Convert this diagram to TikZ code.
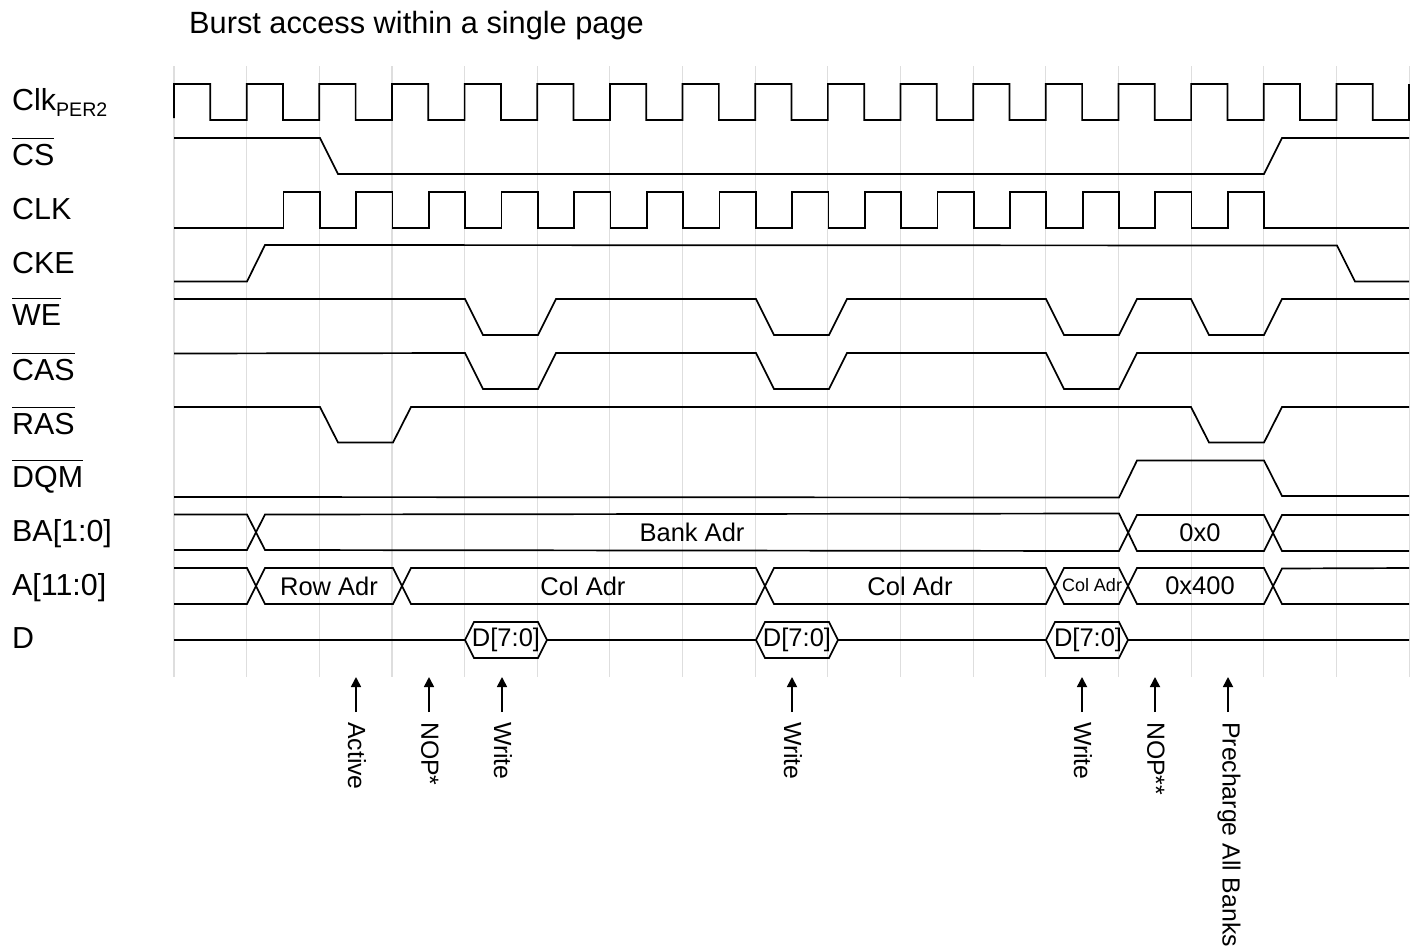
\documentclass[tikz,border=0pt]{standalone}
\usepackage{fontspec}
\setmainfont{Liberation Sans}
\usetikzlibrary{arrows.meta}
\newcommand\barred[1]{\leavevmode\vbox{\hrule height 1.2pt \kern 4.6pt \hbox{#1}}}
\newcommand\fs[1]{\fontsize{#1}{#1}\selectfont}
\tikzset{
  gridline/.style={draw=black!13,line width=1.1pt},
  wave/.style={draw=black,line width=1.7pt,line join=miter},
  siglabel/.style={anchor=base west,inner sep=0pt,font=\fs{30.4}},
  buslabel/.style={anchor=center,inner sep=0pt,font=\fs{25.5}},
  cmdlabel/.style={anchor=west,rotate=-90,inner sep=0pt,font=\fs{24.8}},
  cmdarrow/.style={draw=black,line width=1.7pt,-{Triangle[length=10pt,width=10pt]},shorten <=10pt},
}
\begin{document}
\begin{tikzpicture}[x=1pt,y=-1pt]
\useasboundingbox (0,0) rectangle (1420,951);
% grid
\foreach \i in {0,...,17} {
  \pgfmathsetmacro\gx{174+72.65*\i}
  \draw[gridline] (\gx,66) -- (\gx,677);
}
% title and labels
\node[siglabel,font=\fs{30.75}] (title) at (189,33) {Burst access within a single page};
\node[siglabel] (lclk2) at (12,110) {Clk\raisebox{-6pt}{\fs{19.6}PER2}};
\node[siglabel] (lcs) at (12,165) {\barred{CS}};
\node[siglabel] (lclk) at (12,219) {CLK};
\node[siglabel] (lcke) at (12,273) {CKE};
\node[siglabel] (lwe) at (12,325) {\barred{WE}};
\node[siglabel] (lcas) at (12,380) {\barred{CAS}};
\node[siglabel] (lras) at (12,434) {\barred{RAS}};
\node[siglabel] (ldqm) at (12,487) {\barred{DQM}};
\node[siglabel] (lba) at (12,541) {BA[1:0]};
\node[siglabel] (la) at (12,595) {A[11:0]};
\node[siglabel] (ld) at (12,648) {D};
% Clk PER2
\draw[wave] (174,118)
  \foreach \i in {0,...,16} {
    \pgfextra{\pgfmathsetmacro\xa{174+72.65*\i}\pgfmathsetmacro\xb{\xa+36.3}\pgfmathsetmacro\xc{\xa+72.65}}
    -- (\xa,84) -- (\xb,84) -- (\xb,120) -- (\xc,120)
  } -- (1409,84);
% CS
\draw[wave] (174,138) -- (320,138) -- (338,174) -- (1264,174) -- (1282,138) -- (1409,138);
% CLK
\draw[wave] (174,228)
  \foreach \i in {0,...,13} {
    \pgfextra{\pgfmathsetmacro\xa{283.5+72.65*\i}\pgfmathsetmacro\xb{\xa+36.3}\pgfmathsetmacro\xc{\xa+72.65}}
    -- (\xa,228) -- (\xa,192) -- (\xb,192) -- (\xb,228)
  } -- (1409,228);
\draw[wave,line width=2.2pt] (1337,228) -- (1409,228);
% CKE
\draw[wave] (174,281.5) -- (247,281.5) -- (265,245) -- (1337,245.5) -- (1355,281.5) -- (1409,281.5);
% WE
\draw[wave] (174,299) -- (465,299) -- (483,335) -- (538,335) -- (556,299) -- (756,299) -- (774,335) -- (829,335) -- (847,299) -- (1046,299) -- (1064,335) -- (1119,335) -- (1137,299) -- (1191,299) -- (1209,335) -- (1264,335) -- (1282,299) -- (1409,299);
% CAS
\draw[wave] (174,353.5) -- (465,353) -- (483,389) -- (538,389) -- (556,353) -- (756,353) -- (774,389) -- (829,389) -- (847,353) -- (1046,353) -- (1064,389) -- (1119,389) -- (1137,353) -- (1409,353);
% RAS
\draw[wave] (174,407) -- (320,407) -- (338,442.5) -- (393,442.5) -- (411,407) -- (1191,407) -- (1209,442.5) -- (1264,442.5) -- (1282,407) -- (1409,407);
% DQM
\draw[wave] (174,497) -- (1119,497.5) -- (1137,460.5) -- (1264,460.5) -- (1282,496) -- (1409,496);
% BA
\draw[wave] (174,514.5) -- (247,514.5) -- (265,550) -- (1119,551) -- (1137,515) -- (1264,515) -- (1282,551) -- (1409,551);
\draw[wave] (174,550) -- (247,550) -- (265,514.5) -- (1119,513.5) -- (1137,551) -- (1264,551) -- (1282,515) -- (1409,515);
\node[buslabel] (bank) at (692,532) {Bank Adr};
\node[buslabel] (bzero) at (1200,532.5) {0x0};
% A
\draw[wave] (174,568) -- (247,568) -- (265,604) -- (393,604) -- (411,568) -- (756,568) -- (774,604) -- (1046,604) -- (1064,568) -- (1119,568) -- (1137,604) -- (1264,604) -- (1282,568.5) -- (1409,568);
\draw[wave] (174,604) -- (247,604) -- (265,568) -- (393,568) -- (411,604) -- (756,604) -- (774,568) -- (1046,568) -- (1064,604) -- (1119,604) -- (1137,568) -- (1264,568) -- (1282,604) -- (1409,604);
\node[buslabel] (arow) at (329,586) {Row Adr};
\node[buslabel] (acol) at (583,586) {Col Adr};
\node[buslabel] (acolb) at (910,586) {Col Adr};
\node[buslabel,font=\fs{18}] (acolc) at (1092,585.5) {Col Adr};
\node[buslabel] (ahex) at (1200,586) {0x400};
% D
\draw[wave] (174,640) -- (465,640) -- (474,622) -- (538,622) -- (547,640) -- (756,640) -- (765,622) -- (829,622) -- (838,640) -- (1046,640) -- (1055,622) -- (1119,622) -- (1128,640) -- (1409,640);
\draw[wave] (465,640) -- (474,658) -- (538,658) -- (547,640);
\draw[wave] (756,640) -- (765,658) -- (829,658) -- (838,640);
\draw[wave] (1046,640) -- (1055,658) -- (1119,658) -- (1128,640);
\node[buslabel] (d1) at (506,640) {D[7:0]};
\node[buslabel] (d2) at (797,640) {D[7:0]};
\node[buslabel] (d3) at (1088,640) {D[7:0]};
% commands
\foreach \nm/\x/\txt in {act/356/Active,nopa/429/NOP*,wra/502/Write,wrb/792/Write,wrc/1082/Write,nopb/1155/NOP**,pre/1228/Precharge All Banks} {
  \node[cmdlabel] (c\nm) at (\x+1,722) {\txt};
  \coordinate (t\nm) at (\x,677);
  \draw[cmdarrow] (c\nm.west -| t\nm) -- (t\nm);
}
\end{tikzpicture}
\end{document}
